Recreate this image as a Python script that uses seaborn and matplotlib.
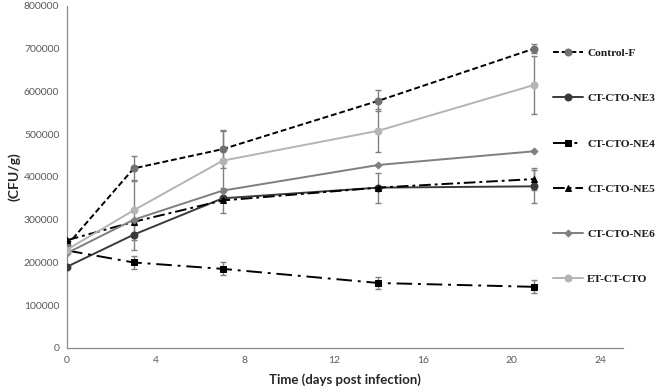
import matplotlib
matplotlib.use('Agg')
import matplotlib.pyplot as plt
import pandas as pd
import seaborn as sns

# days post infection
days = [0, 3, 7, 14, 21]

# mean CFU/g per group
control_f = [240000, 420000, 465000, 578000, 700000]
ne3 = [190000, 265000, 350000, 375000, 378000]
ne4 = [228000, 200000, 185000, 152000, 143000]
ne5 = [252000, 295000, 345000, 375000, 395000]
ne6 = [222000, 300000, 368000, 428000, 460000]
et_ct_cto = [230000, 322000, 438000, 508000, 615000]

# error bar half-widths
control_f_err = [0, 30000, 44000, 25000, 10000]
ne3_err = [0, 35000, 0, 0, 38000]
ne4_err = [0, 15000, 15000, 15000, 15000]
ne5_err = [0, 0, 30000, 35000, 25000]
ne6_err = [0, 0, 0, 0, 0]
et_ct_cto_err = [0, 70000, 70000, 50000, 67000]

labels = ['Control-F', 'CT-CTO-NE3', 'CT-CTO-NE4', 'CT-CTO-NE5',
          'CT-CTO-NE6', 'ET-CT-CTO']
means = [control_f, ne3, ne4, ne5, ne6, et_ct_cto]
errs = [control_f_err, ne3_err, ne4_err, ne5_err, ne6_err, et_ct_cto_err]

# line styles per group
line_colors = ['black', '#3a3a3a', 'black', 'black', '#7f7f7f', '#b4b4b4']
marker_colors = ['#707070', '#3a3a3a', 'black', 'black', '#7f7f7f', '#b4b4b4']
markers = ['o', 'o', 's', '^', 'D', 'o']
marker_sizes = [5, 5, 5, 5, 3.5, 5]
dashes = [(3, 1.5), '', (8, 3, 1.5, 3), (6, 2, 1.5, 2), '', '']

sns.set_style('white')
plt.rcParams['font.family'] = ['Lato', 'DejaVu Sans']

fig = plt.figure(figsize=(6.6, 3.91), dpi=100)
ax = fig.add_axes([0.1015, 0.110, 0.8425, 0.875])

for i, label in enumerate(labels):
    df = pd.DataFrame({'day': days, 'cfu': means[i]})
    ax.errorbar(days, means[i], yerr=errs[i], fmt='none', ecolor='#808080',
                elinewidth=1, capsize=2.5, capthick=1, zorder=1)
    sns.lineplot(data=df, x='day', y='cfu', ax=ax, color=line_colors[i],
                 marker=markers[i], markersize=marker_sizes[i],
                 markerfacecolor=marker_colors[i],
                 markeredgecolor=marker_colors[i], linewidth=1.4,
                 label=label, zorder=3)
    if dashes[i]:
        ax.lines[-1].set_dashes(dashes[i])

ax.set_xlim(0, 25)
ax.set_ylim(0, 800000)
ax.set_xticks(range(0, 25, 4))
ax.set_yticks(range(0, 800001, 100000))
ax.tick_params(axis='both', colors='#8c8c8c', labelcolor='#595959',
               labelsize=7.5, length=3.5, width=0.8, direction='out', pad=2)
ax.set_xlabel('Time (days post infection)', fontsize=9.5, fontweight='bold',
              color='#262626', labelpad=6)
ax.set_ylabel('(CFU/g)', fontsize=10, fontweight='bold', color='#262626')
ax.yaxis.set_label_coords(-0.083, 0.5)
sns.despine(ax=ax)
for side in ['left', 'bottom']:
    ax.spines[side].set_color('#8c8c8c')
    ax.spines[side].set_linewidth(0.9)

leg = ax.legend(loc='upper left', bbox_to_anchor=(553 / 660, 1 - 48 / 391),
                bbox_transform=fig.transFigure, frameon=False,
                prop={'family': 'Liberation Serif', 'weight': 'bold',
                      'size': 8.2},
                handlelength=2.6, handletextpad=0.4, labelspacing=3.1,
                borderaxespad=0, borderpad=0)
for t in leg.get_texts():
    t.set_color('#1a1a1a')

fig.savefig('out.png', dpi=100, facecolor='white')
